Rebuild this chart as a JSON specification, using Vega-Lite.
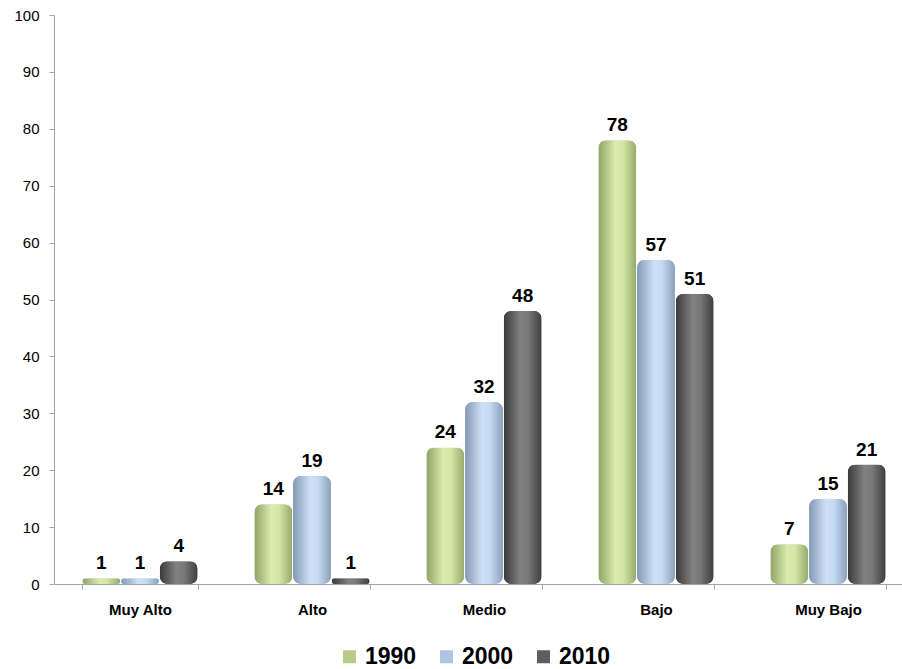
{
  "$schema": "https://vega.github.io/schema/vega-lite/v6.json",
  "width": 848,
  "height": 569,
  "autosize": {"type": "none"},
  "padding": {"left": 54, "top": 15, "right": 0, "bottom": 85},
  "background": "white",
  "config": {
    "view": {"stroke": null},
    "font": "Liberation Sans"
  },
  "data": {
    "values": [
      {"cat": "Muy Alto", "year": "1990", "v": 1},
      {"cat": "Muy Alto", "year": "2000", "v": 1},
      {"cat": "Muy Alto", "year": "2010", "v": 4},
      {"cat": "Alto", "year": "1990", "v": 14},
      {"cat": "Alto", "year": "2000", "v": 19},
      {"cat": "Alto", "year": "2010", "v": 1},
      {"cat": "Medio", "year": "1990", "v": 24},
      {"cat": "Medio", "year": "2000", "v": 32},
      {"cat": "Medio", "year": "2010", "v": 48},
      {"cat": "Bajo", "year": "1990", "v": 78},
      {"cat": "Bajo", "year": "2000", "v": 57},
      {"cat": "Bajo", "year": "2010", "v": 51},
      {"cat": "Muy Bajo", "year": "1990", "v": 7},
      {"cat": "Muy Bajo", "year": "2000", "v": 15},
      {"cat": "Muy Bajo", "year": "2010", "v": 21}
    ]
  },
  "encoding": {
    "x": {
      "field": "cat", "type": "nominal",
      "sort": ["Muy Alto", "Alto", "Medio", "Bajo", "Muy Bajo"],
      "scale": {"range": [0, 860], "paddingInner": 0.33, "paddingOuter": 0.165},
      "axis": {
        "title": null, "labelAngle": 0, "tickBand": "extent",
        "labelFont": "Liberation Sans", "labelFontWeight": "bold", "labelFontSize": 15,
        "labelColor": "black", "labelPadding": 13,
        "domainColor": "#a6a6a6", "tickColor": "#a6a6a6", "tickSize": 5
      }
    },
    "xOffset": {"field": "year", "type": "nominal", "scale": {"paddingInner": 0.02}},
    "y": {
      "field": "v", "type": "quantitative",
      "scale": {"domain": [0, 100]},
      "axis": {
        "title": null, "grid": false, "values": [0,10,20,30,40,50,60,70,80,90,100],
        "labelFont": "Liberation Sans", "labelFontSize": 15, "labelColor": "black",
        "labelPadding": 10,
        "domainColor": "#a6a6a6", "tickColor": "#a6a6a6", "tickSize": 5
      }
    }
  },
  "layer": [
    {
      "mark": {"type": "bar", "cornerRadius": 8},
      "encoding": {
        "color": {
          "field": "year", "type": "nominal",
          "scale": {"domain": ["1990", "2000", "2010"], "range": ["#b7cc86", "#aec6e2", "#5e5e5e"]},
          "legend": {
            "title": null, "orient": "none", "direction": "horizontal",
            "legendX": 284, "legendY": 630,
            "labelFont": "Liberation Sans", "labelFontSize": 23, "labelFontWeight": "bold",
            "labelColor": "black", "symbolType": "square", "symbolSize": 169,
            "symbolStrokeWidth": 0, "columnPadding": 18, "labelOffset": 4
          }
        }
      }
    },
    {
      "transform": [{"filter": "datum.year === '1990'"}],
      "mark": {
        "type": "bar", "cornerRadius": 8,
        "fill": {"gradient": "linear", "x1": 0, "y1": 0, "x2": 1, "y2": 0,
          "stops": [{"offset": 0, "color": "#8ea466"}, {"offset": 0.45, "color": "#dcebb0"}, {"offset": 0.65, "color": "#d5e6a6"}, {"offset": 1, "color": "#93aa6b"}]}
      }
    },
    {
      "transform": [{"filter": "datum.year === '2000'"}],
      "mark": {
        "type": "bar", "cornerRadius": 8,
        "fill": {"gradient": "linear", "x1": 0, "y1": 0, "x2": 1, "y2": 0,
          "stops": [{"offset": 0, "color": "#8399b4"}, {"offset": 0.45, "color": "#cde0f6"}, {"offset": 0.65, "color": "#c6dbf3"}, {"offset": 1, "color": "#8aa0bb"}]}
      }
    },
    {
      "transform": [{"filter": "datum.year === '2010'"}],
      "mark": {
        "type": "bar", "cornerRadius": 8,
        "fill": {"gradient": "linear", "x1": 0, "y1": 0, "x2": 1, "y2": 0,
          "stops": [{"offset": 0, "color": "#3a3a3a"}, {"offset": 0.45, "color": "#828282"}, {"offset": 0.65, "color": "#787878"}, {"offset": 1, "color": "#3e3e3e"}]}
      }
    },
    {
      "mark": {"type": "text", "dy": -15, "font": "Liberation Sans", "fontSize": 19, "fontWeight": "bold", "color": "black"},
      "encoding": {"text": {"field": "v", "type": "quantitative"}}
    }
  ]
}
